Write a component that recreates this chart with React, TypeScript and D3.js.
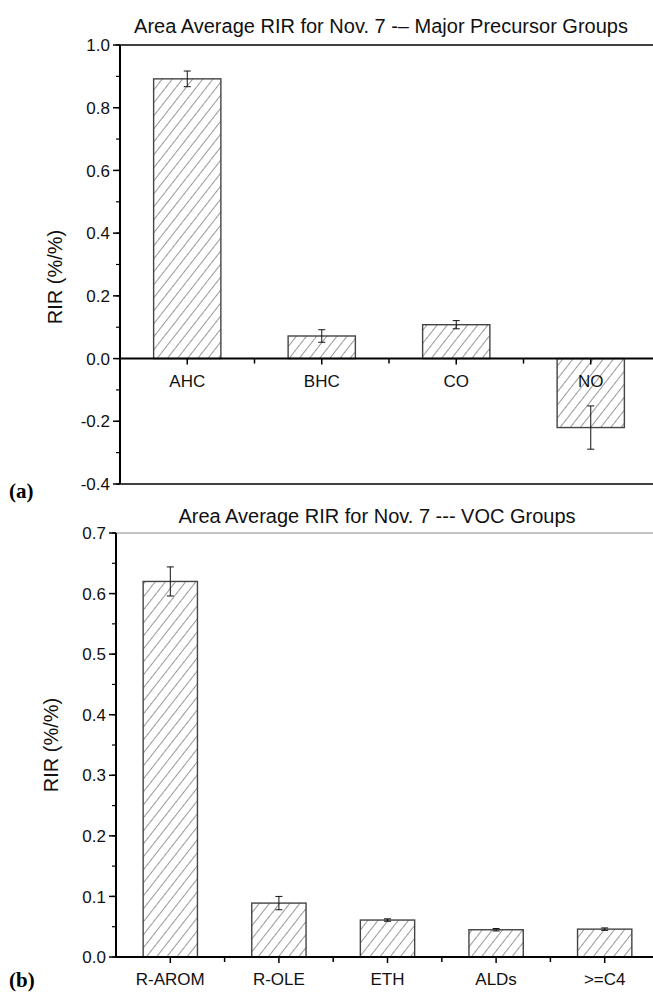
import * as d3 from "d3";

const topCategories = ["AHC", "BHC", "CO", "NO"];
const topValues = [0.892, 0.072, 0.108, -0.22];
const topErrors = [0.025, 0.02, 0.013, 0.069];
const topTicks = [-0.4, -0.2, 0.0, 0.2, 0.4, 0.6, 0.8, 1.0];

const bottomCategories = ["R-AROM", "R-OLE", "ETH", "ALDs", ">=C4"];
const bottomValues = [0.62, 0.089, 0.061, 0.045, 0.046];
const bottomErrors = [0.024, 0.011, 0.002, 0.002, 0.002];
const bottomTicks = [0.0, 0.1, 0.2, 0.3, 0.4, 0.5, 0.6, 0.7];

const FONT = "'Liberation Sans', Arial, sans-serif";

const Panel = ({ cfg }) => {
  const { cats, vals, errs, ticks, minorStep, x0, x1, yTop, yBot, title, titleX, titleY, letter, letterY, ylabX, ylabY, topLine } = cfg;
  const yScale = d3.scaleLinear().domain([ticks[0], ticks[ticks.length - 1]]).range([yBot, yTop]);
  const xScale = d3.scaleBand().domain(cats).range([x0, x1]).paddingInner(0.5).paddingOuter(0.25);
  const step = xScale.step();
  const y0 = yScale(0);
  const minor = d3.range(ticks[0], ticks[ticks.length - 1] + 1e-9, minorStep);
  const boundaries = cats.slice(1).map((c) => xScale(c) - step * 0.25);
  const fmt = (t) => d3.format(".1f")(t).replace("\u2212", "-");

  return (
    <g>
      <text x={titleX} y={titleY} textAnchor="middle" fontFamily={FONT} fontSize={20} fill="#111">
        {title}
      </text>
      <text x={9} y={letterY} fontFamily="'Liberation Serif', 'Times New Roman', serif" fontWeight="bold" fontSize={21} fill="#000">
        {letter}
      </text>
      <text
        transform={`translate(${ylabX},${ylabY}) rotate(-90)`}
        textAnchor="middle"
        fontFamily={FONT}
        fontSize={20}
        fill="#111"
      >
        RIR (%/%)
      </text>

      {/* bars */}
      {cats.map((c, i) => (
        <rect
          key={c}
          x={xScale(c)}
          y={Math.min(yScale(vals[i]), y0)}
          width={xScale.bandwidth()}
          height={Math.abs(yScale(vals[i]) - y0)}
          fill="url(#hatch)"
          stroke="#444"
          strokeWidth={1.4}
        />
      ))}

      {/* error bars */}
      {cats.map((c, i) => {
        const cx = xScale(c) + xScale.bandwidth() / 2;
        const hi = yScale(vals[i] + errs[i]);
        const lo = yScale(vals[i] - errs[i]);
        return (
          <g key={"e" + c} stroke="#111" strokeWidth={1}>
            <line x1={cx} x2={cx} y1={hi} y2={lo} />
            <line x1={cx - 3.5} x2={cx + 3.5} y1={hi} y2={hi} />
            <line x1={cx - 3.5} x2={cx + 3.5} y1={lo} y2={lo} />
          </g>
        );
      })}

      {/* frame lines */}
      <line x1={x0} x2={660} y1={yTop} y2={yTop} stroke={topLine} strokeWidth={topLine === "#000" ? 1.5 : 1.2} />
      {ticks[0] < 0 && <line x1={x0} x2={660} y1={yBot} y2={yBot} stroke="#000" strokeWidth={1.5} />}
      <line x1={x0} x2={660} y1={y0} y2={y0} stroke="#000" strokeWidth={2} />
      <line x1={x0} x2={x0} y1={yTop} y2={yBot} stroke="#000" strokeWidth={2} />

      {/* y ticks */}
      {minor.map((t) => (
        <line key={"m" + t} x1={x0 - 4} x2={x0} y1={yScale(t)} y2={yScale(t)} stroke="#000" strokeWidth={1.2} />
      ))}
      {ticks.map((t) => (
        <g key={"t" + t}>
          <line x1={x0 - 7} x2={x0} y1={yScale(t)} y2={yScale(t)} stroke="#000" strokeWidth={1.5} />
          <text x={x0 - 10} y={yScale(t)} dy="0.36em" textAnchor="end" fontFamily={FONT} fontSize={17} fill="#111">
            {fmt(t)}
          </text>
        </g>
      ))}

      {/* x ticks and labels */}
      {cats.map((c) => {
        const cx = xScale(c) + xScale.bandwidth() / 2;
        return (
          <g key={"x" + c}>
            <line x1={cx} x2={cx} y1={y0} y2={y0 + 6} stroke="#000" strokeWidth={1.5} />
            <text x={cx} y={y0 + 28} textAnchor="middle" fontFamily={FONT} fontSize={17} fill="#111">
              {c}
            </text>
          </g>
        );
      })}
      {boundaries.map((bx, i) => (
        <line key={"b" + i} x1={bx} x2={bx} y1={y0} y2={y0 + 5} stroke="#000" strokeWidth={1.5} />
      ))}
    </g>
  );
};

const App = () => {
  const top = {
    cats: topCategories,
    vals: topValues,
    errs: topErrors,
    ticks: topTicks,
    minorStep: 0.1,
    x0: 120,
    x1: 658,
    yTop: 45,
    yBot: 484,
    title: "Area Average RIR for Nov. 7 -– Major Precursor Groups",
    titleX: 381,
    titleY: 33,
    letter: "(a)",
    letterY: 498,
    ylabX: 62,
    ylabY: 277,
    topLine: "#000",
  };
  const bottom = {
    cats: bottomCategories,
    vals: bottomValues,
    errs: bottomErrors,
    ticks: bottomTicks,
    minorStep: 0.05,
    x0: 116,
    x1: 659,
    yTop: 533,
    yBot: 957,
    title: "Area Average RIR for Nov. 7 --- VOC Groups",
    titleX: 377,
    titleY: 523,
    letter: "(b)",
    letterY: 987,
    ylabX: 58,
    ylabY: 745,
    topLine: "#888",
  };

  return (
    <svg width={653} height={992} style={{ position: "absolute", left: 0, top: 0, background: "#fff" }}>
      <defs>
        <pattern id="hatch" patternUnits="userSpaceOnUse" width={8} height={8} patternTransform="rotate(38)">
          <rect width={8} height={8} fill="#fff" />
          <line x1={0} y1={0} x2={0} y2={8} stroke="#333" strokeWidth={1} />
        </pattern>
      </defs>
      <rect width={653} height={992} fill="#fff" />
      <Panel cfg={top} />
      <Panel cfg={bottom} />
    </svg>
  );
};

export default App;
